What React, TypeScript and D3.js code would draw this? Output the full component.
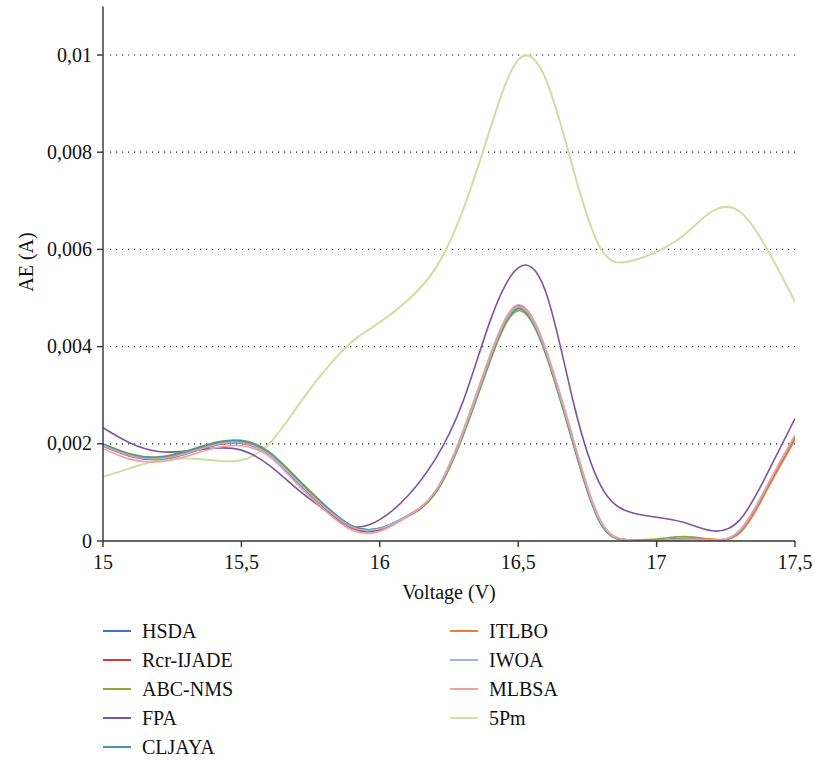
import React from 'react'
import * as d3 from 'd3'

// x values (V)
const voltage = [15, 15.1, 15.2, 15.3, 15.4, 15.5, 15.6, 15.7, 15.8, 15.9, 16, 16.1, 16.2, 16.3, 16.4, 16.5, 16.6, 16.7, 16.8, 16.9, 17, 17.1, 17.2, 17.3, 17.4, 17.5]

// absolute error, in mA
const hsda = [1.98, 1.77, 1.71, 1.82, 1.99, 2.04, 1.8, 1.26, 0.72, 0.3, 0.26, 0.52, 1.0, 2.2, 3.78, 4.8, 3.88, 2.01, 0.36, 0.02, 0.01, 0.05, 0.02, 0.19, 1.12, 2.15]
const rcrIjade = [1.95, 1.74, 1.68, 1.79, 1.96, 2.01, 1.77, 1.22, 0.68, 0.26, 0.23, 0.51, 1.01, 2.23, 3.82, 4.84, 3.92, 2.05, 0.38, 0.02, 0.01, 0.04, 0.02, 0.2, 1.13, 2.16]
const abcNms = [2.0, 1.79, 1.73, 1.85, 2.02, 2.07, 1.84, 1.3, 0.75, 0.31, 0.26, 0.5, 0.97, 2.15, 3.72, 4.74, 3.83, 1.96, 0.33, 0.02, 0.04, 0.09, 0.03, 0.18, 1.1, 2.13]
const fpa = [2.33, 2.01, 1.84, 1.85, 1.91, 1.87, 1.56, 1.08, 0.64, 0.3, 0.44, 0.92, 1.68, 2.86, 4.55, 5.62, 5.12, 2.84, 1.12, 0.6, 0.49, 0.38, 0.21, 0.43, 1.39, 2.52]
const cljaya = [1.99, 1.78, 1.72, 1.84, 2.01, 2.06, 1.82, 1.28, 0.74, 0.31, 0.26, 0.51, 0.99, 2.18, 3.76, 4.78, 3.86, 1.99, 0.35, 0.02, 0.01, 0.05, 0.02, 0.19, 1.11, 2.14]
const itlbo = [1.97, 1.76, 1.7, 1.81, 1.98, 2.03, 1.79, 1.25, 0.71, 0.29, 0.25, 0.52, 1.0, 2.2, 3.79, 4.81, 3.89, 2.02, 0.37, 0.02, 0.02, 0.03, 0.04, 0.16, 1.06, 2.08]
const iwoa = [1.96, 1.75, 1.69, 1.8, 1.97, 2.02, 1.78, 1.24, 0.7, 0.28, 0.25, 0.52, 1.01, 2.21, 3.8, 4.82, 3.9, 2.03, 0.37, 0.02, 0.01, 0.04, 0.02, 0.2, 1.13, 2.17]
const mlbsa = [1.9, 1.68, 1.63, 1.74, 1.91, 1.96, 1.74, 1.18, 0.64, 0.22, 0.2, 0.5, 1.02, 2.26, 3.85, 4.86, 3.95, 2.08, 0.4, 0.02, 0.0, 0.03, 0.02, 0.22, 1.15, 2.18]
const fivePm = [1.32, 1.5, 1.66, 1.7, 1.66, 1.66, 2.0, 2.75, 3.5, 4.1, 4.5, 4.95, 5.6, 6.8, 8.5, 9.9, 9.5, 7.63, 6.0, 5.75, 5.95, 6.3, 6.78, 6.78, 6.0, 4.92]

const seriesNames = ['HSDA', 'Rcr-IJADE', 'ABC-NMS', 'FPA', 'CLJAYA', 'ITLBO', 'IWOA', 'MLBSA', '5Pm']
const seriesValues = [hsda, rcrIjade, abcNms, fpa, cljaya, itlbo, iwoa, mlbsa, fivePm]
const seriesColors = ['#4472c4', '#d9393b', '#8aad2c', '#7a56a0', '#3f98b0', '#ed7d31', '#9db6e6', '#e8a2a0', '#d3dda2']

const xTicks = [15, 15.5, 16, 16.5, 17, 17.5]
const yTicks = [0, 0.002, 0.004, 0.006, 0.008, 0.01]

const W = 815
const H = 761
const txt = { fontFamily: 'Liberation Serif', fontSize: 20, fill: '#111' }

const x = d3.scaleLinear().domain([15, 17.5]).range([103, 795])
const y = d3.scaleLinear().domain([0, 0.011]).range([541, 541 - 0.011 * 48600])

const line = d3.line<number>()
  .x((d, i) => x(voltage[i]))
  .y(d => y(d / 1000))
  .curve(d3.curveNatural)

// draw order: pale 5Pm below, MLBSA on top
const order = [8, 3, 2, 0, 4, 5, 1, 6, 7]

const fmtY = (v: number) => (v === 0 ? '0' : String(+v.toFixed(3)).replace('.', ','))
const fmtX = (v: number) => String(v).replace('.', ',')

const App = () => {
  const [x0, x1] = x.range()
  const y0 = y(0)
  return (
    <svg width={W} height={H} style={{ position: 'absolute', left: 0, top: 0, background: '#fff' }}>
      <defs>
        <clipPath id="plot-clip">
          <rect x={x0} y={0} width={x1 - x0} height={y0} />
        </clipPath>
      </defs>

      {/* dotted gridlines */}
      {yTicks.filter(d => d > 0).map(d => (
        <line key={d} x1={x0 + 7} x2={x1} y1={y(d)} y2={y(d)} stroke="#222" strokeWidth={1.2} strokeDasharray="1.2 4.8" />
      ))}

      {/* curves */}
      <g clipPath="url(#plot-clip)">
        {order.map(i => (
          <path key={i} d={line(seriesValues[i]) || ''} fill="none" stroke={seriesColors[i]} strokeWidth={i === 8 ? 2 : 1.6} />
        ))}
      </g>

      {/* axes */}
      <line x1={x0} x2={x0} y1={y.range()[1]} y2={y0} stroke="#333" strokeWidth={1.4} />
      <line x1={x0} x2={x1} y1={y0} y2={y0} stroke="#333" strokeWidth={1.4} />
      {xTicks.map(t => (
        <g key={t}>
          <line x1={x(t)} x2={x(t)} y1={y0} y2={y0 + 6} stroke="#333" strokeWidth={1.4} />
          <text x={x(t)} y={y0 + 28} textAnchor="middle" style={txt}>{fmtX(t)}</text>
        </g>
      ))}
      {yTicks.map(t => (
        <g key={t}>
          <line x1={x0 - 6} x2={x0} y1={y(t)} y2={y(t)} stroke="#333" strokeWidth={1.4} />
          <text x={x0 - 11} y={y(t)} dy="0.33em" textAnchor="end" style={txt}>{fmtY(t)}</text>
        </g>
      ))}

      {/* axis titles */}
      <text x={449} y={599} textAnchor="middle" style={txt}>Voltage (V)</text>
      <text transform="translate(33,262) rotate(-90)" textAnchor="middle" style={txt}>AE (A)</text>

      {/* legend, two columns */}
      {seriesNames.map((name, i) => {
        const col = i < 5 ? 0 : 1
        const row = i < 5 ? i : i - 5
        const lx = col === 0 ? 103 : 450
        const ly = 631 + row * 29
        return (
          <g key={name}>
            <line x1={lx} x2={lx + 28} y1={ly} y2={ly} stroke={seriesColors[i]} strokeWidth={2} />
            <text x={lx + 39} y={ly} dy="0.35em" style={txt}>{name}</text>
          </g>
        )
      })}
    </svg>
  )
}

export default App
